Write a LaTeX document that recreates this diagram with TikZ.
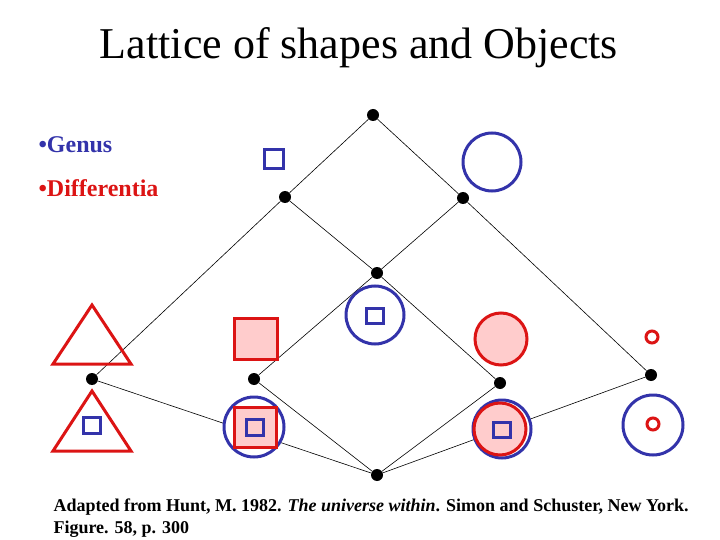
\documentclass[tikz,border=0pt]{standalone}
\usepackage{fontspec}
\setmainfont{Liberation Serif}
\definecolor{shapeblue}{RGB}{51,51,170}
\definecolor{shapered}{RGB}{220,20,20}
\definecolor{shapepink}{RGB}{255,204,204}
\tikzset{dot/.style = {circle, fill=black, inner sep=0pt, minimum size=12pt},
         edge/.style = {black, line width=0.6pt},
         blueline/.style = {draw=shapeblue, line width=3pt},
         redline/.style = {draw=shapered, line width=3pt},
         pinkred/.style = {fill=shapepink, draw=shapered, line width=3pt}}

\begin{document}
\begin{tikzpicture}[x=1pt,y=-1pt]
        \useasboundingbox[fill=white](0,0)rectangle(720,540);
        \node(title)at(359,48){\fontsize{44}{50}\selectfont Lattice of shapes and Objects};
        \node[right,text=shapeblue](genus)at(35,145){\fontsize{24}{28}\selectfont\bfseries •Genus};
        \node[right,text=shapered](diff)at(35,188){\fontsize{24}{28}\selectfont\bfseries •Differentia};

        \node[dot](top)at(373,115){};
        \node[dot](l1)at(285,197){};
        \node[dot](r1)at(463,198){};
        \node[dot](mid)at(377,273){};
        \node[dot](ll)at(92,379){};
        \node[dot](l2)at(254,379){};
        \node[dot](r2)at(500,383){};
        \node[dot](rr)at(651,375){};
        \node[dot](bot)at(377,475){};

        \draw[edge](top)--(l1);
        \draw[edge](top)--(r1);
        \draw[edge](l1)--(ll);
        \draw[edge](l1)--(mid);
        \draw[edge](r1)--(mid);
        \draw[edge](r1)--(rr);
        \draw[edge](mid)--(l2);
        \draw[edge](mid)--(r2);
        \draw[edge](ll)--(bot);
        \draw[edge](l2)--(bot);
        \draw[edge](r2)--(bot);
        \draw[edge](rr)--(bot);

        % upper row
        \draw[blueline](264,150)rectangle(283,169);
        \draw[blueline](492,162)circle(29);
        \draw[blueline,fill=white](375,315)circle(29);
        \draw[blueline](366,308)rectangle(383,323);
        \draw[redline,line join=miter](92,305)--(53,364)--(131,364)--cycle;
        \draw[pinkred](234,318)rectangle(277,359);
        \draw[pinkred](501,339)circle(26);
        \draw[redline](652,337)circle(6);

        % lower row
        \draw[redline,fill=white,line join=miter](92,391)--(53,451)--(131,451)--cycle;
        \draw[blueline](83,417)rectangle(100,433);
        \draw[blueline,fill=white](254,427)circle(30);
        \draw[pinkred](234,407)rectangle(276,447);
        \draw[blueline](246,419)rectangle(263,435);
        \draw[blueline,fill=white](502,429)circle(29);
        \draw[pinkred](500,429)circle(26);
        \draw[blueline](493,422)rectangle(510,437);
        \draw[blueline](653,425)circle(30);
        \draw[redline](653,424)circle(6);

        \node[right,align=left,font=\fontsize{18}{21.5}\selectfont\bfseries](source)at(50,518){Adapted from Hunt, M. 1982. \textit{The universe within}. Simon and Schuster, New York.\\ Figure. 58, p. 300};
    \end{tikzpicture}
\end{document}
